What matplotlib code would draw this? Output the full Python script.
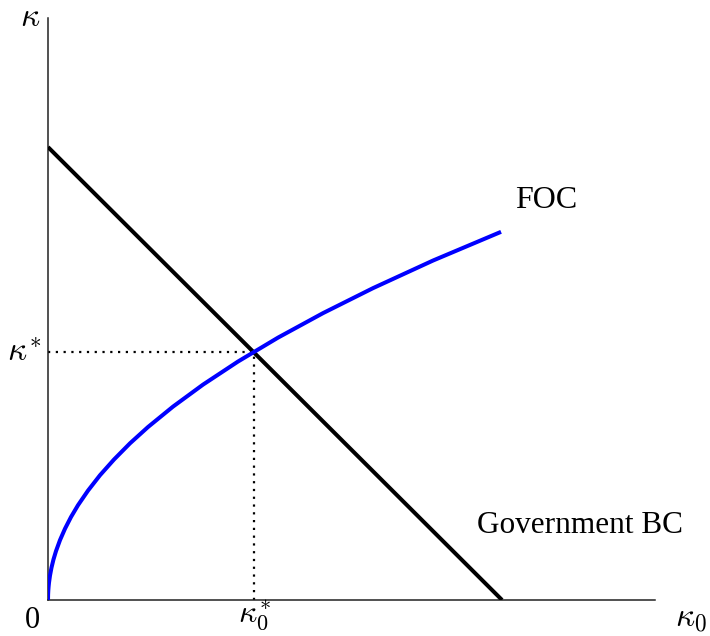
import matplotlib
matplotlib.use("Agg")
import matplotlib.pyplot as plt

plt.rcParams["mathtext.fontset"] = "cm"

# FOC curve, points (axis units)
foc_x = [0, 0.1, 0.3, 0.6, 1, 2, 3.5, 5.5, 8, 12, 17, 23, 30, 40, 52, 66,
         82, 100, 125, 155, 190, 230, 275, 325, 385, 453]
foc_y = [0, 5.5, 9.5, 13.4, 17.3, 24.5, 32.4, 40.6, 48.9, 59.9, 71.3, 83.0,
         94.8, 109.4, 124.8, 140.5, 156.7, 173.0, 193.4, 215.4, 238.5, 262.4,
         286.9, 311.9, 339.5, 368.2]

# government budget constraint (straight line)
bc_x = [0, 454]
bc_y = [453, 0]

# equilibrium
k0_star = 206
k_star = 248


def main():
    fig = plt.figure(figsize=(7.1, 6.36), dpi=100)
    ax = fig.add_axes([0.0676, 0.0566, 0.855, 0.915])
    ax.set_xlim(0, 607)
    ax.set_ylim(0, 582)

    ax.plot(bc_x, bc_y, color="black", lw=2.9, solid_capstyle="butt", zorder=3)
    ax.plot(foc_x, foc_y, color="#0000ff", lw=2.9, solid_capstyle="butt", zorder=4)

    # dotted guides
    ax.plot([0, k0_star], [k_star, k_star], color="black", lw=1.6,
            ls=(0, (1, 2.5)), zorder=2)
    ax.plot([k0_star, k0_star], [0, k_star], color="black", lw=1.6,
            ls=(0, (1, 2.5)), zorder=2)

    for s in ["top", "right"]:
        ax.spines[s].set_visible(False)
    for s in ["left", "bottom"]:
        ax.spines[s].set_linewidth(1.1)
        ax.spines[s].set_color("#222222")
    ax.set_xticks([])
    ax.set_yticks([])

    serif = "Liberation Serif"
    ax.text(467, 400, "FOC", fontsize=23, family=serif, ha="left", va="center")
    ax.text(429, 75, "Government BC", fontsize=22.5, family=serif,
            ha="left", va="center")

    ax.text(-16, -20, "0", fontsize=22, family=serif, ha="center", va="center",
            clip_on=False)
    ax.text(k0_star, -16, r"$\kappa_0^{\!*}$", fontsize=23, ha="center",
            va="center", clip_on=False)
    ax.text(643, -17, r"$\kappa_0$", fontsize=24, ha="center", va="center",
            clip_on=False)
    ax.text(-24, k_star, r"$\kappa^{\!*}$", fontsize=24, ha="center",
            va="center", clip_on=False)
    ax.text(-18, 584, r"$\kappa$", fontsize=24, ha="center", va="center",
            clip_on=False)

    fig.savefig("out.png", dpi=100)
    plt.close(fig)


if __name__ == "__main__":
    main()
